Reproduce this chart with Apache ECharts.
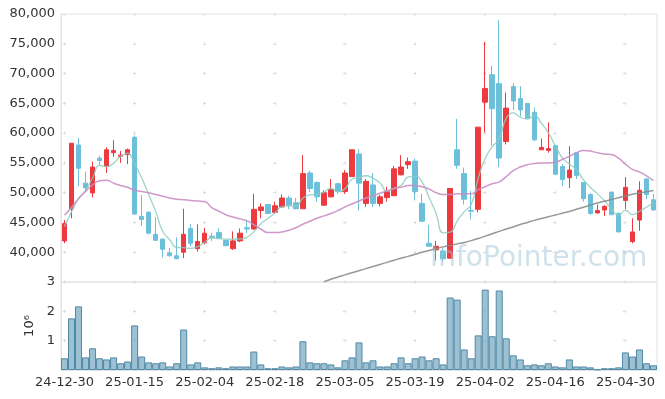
<!DOCTYPE html>
<html>
<head>
<meta charset="utf-8">
<script src="https://cdn.jsdelivr.net/npm/echarts@6/dist/echarts.min.js"></script>
<style>
html, body { margin: 0; padding: 0; background: #fff; }
#main { width: 665px; height: 399px; }
</style>
</head>
<body>
<div id="main"></div>
<script>
// trading days shown on the x axis
var dates = ['24-12-30',
  '25-01-02','25-01-03','25-01-06','25-01-07','25-01-08','25-01-09','25-01-10','25-01-13','25-01-14','25-01-15',
  '25-01-16','25-01-17','25-01-20','25-01-21','25-01-22','25-01-23','25-01-24','25-01-31',
  '25-02-03','25-02-04','25-02-05','25-02-06','25-02-07','25-02-10','25-02-11','25-02-12','25-02-13','25-02-14',
  '25-02-17','25-02-18','25-02-19','25-02-20','25-02-21','25-02-24','25-02-25','25-02-26','25-02-27','25-02-28',
  '25-03-04','25-03-05','25-03-06','25-03-07','25-03-10','25-03-11','25-03-12','25-03-13','25-03-14','25-03-17',
  '25-03-18','25-03-19','25-03-20','25-03-21','25-03-24','25-03-25','25-03-26','25-03-27','25-03-28','25-03-31',
  '25-04-01','25-04-02','25-04-03','25-04-04','25-04-07','25-04-08','25-04-09','25-04-10','25-04-11','25-04-14',
  '25-04-15','25-04-16','25-04-17','25-04-18','25-04-21','25-04-22','25-04-23','25-04-24','25-04-25','25-04-28',
  '25-04-29','25-04-30','25-05-02','25-05-07','25-05-08','25-05-09'];

var opens  = [41900,47300,58000,51600,49950,55800,54400,56700,56100,56400,59300,46000,46700,43000,42200,39900,39400,40000,44000,40600,
              41600,42700,43300,42000,40600,41900,44100,43900,47000,48000,46700,47600,49100,48300,47300,53300,51700,47900,49300,51500,
              50200,52700,56500,48200,51300,48200,49200,49500,53000,54700,55300,48200,41500,40400,40200,39000,57200,53200,47000,47200,
              65200,69800,68300,58600,67800,65800,65000,63500,57200,57100,57900,54400,52500,56700,51700,49700,46600,47100,50100,46500,
              48700,41800,45400,52300,48800];
var closes = [44800,58300,54100,50800,54300,55400,57200,57100,56300,57200,46400,45500,43200,42000,40500,39400,38900,43000,41500,41800,
              43200,42500,42400,41100,41900,43200,43900,47200,47600,46500,47800,49100,47900,47300,53200,50700,49300,50000,50500,50200,
              53300,57200,51600,51900,48200,49300,50200,54000,54300,55200,50200,45200,41000,41000,38900,50700,54600,48900,46900,61000,
              67500,64100,55800,64200,65400,63900,62500,58900,57600,57400,53100,52200,53800,52900,49000,46500,47000,47700,46300,43400,
              50900,43400,50400,49700,47100];
var lows   = [41500,45700,51100,50100,49200,54500,53300,56000,55000,54800,46300,44400,43000,41900,39100,39300,38900,39000,41000,40100,
              41300,41900,42300,41000,40400,41700,43200,43800,45700,46400,46500,47500,47200,47200,47300,50100,48500,47800,49200,49800,
              49800,52700,47000,47600,47600,47700,48500,49400,52900,54000,48700,45100,40900,38600,38500,38900,54000,48000,45500,46700,
              60100,57900,54300,58100,63900,62800,62500,58600,57200,56700,53000,51100,50800,52300,48500,46300,46500,46100,46300,43400,
              47200,41500,43600,48900,47000];
var highs  = [45400,58300,59200,53500,55200,56200,57600,58800,57000,57400,59600,49600,46900,45900,42300,40700,42500,47300,44700,44700,
              44100,43300,44000,42100,43500,44000,45400,49800,48200,48100,48500,49700,49500,49100,56300,53700,51900,50400,52300,51700,
              53800,57200,57300,52300,53300,49600,51000,54500,56300,55900,55700,49800,44600,41900,40700,50700,62400,54200,50300,61000,
              75300,71300,79000,66800,68400,67900,65000,64300,59100,61800,58000,54800,57800,56800,51700,49900,48000,47900,50100,46700,
              52600,45700,51900,52400,49800];

// moving averages as drawn (they carry history from before the window)
var ma5 = [44300,46800,49000,50400,52460,54580,54360,54960,56060,56640,54840,52500,49720,46860,43520,42120,40800,40760,40660,40920,
           41680,42400,42280,42200,42220,42220,42500,43460,44760,45680,46600,47640,47780,47720,49060,49640,49680,50100,50740,50140,
           50660,52240,52560,52840,52440,51640,50240,50720,51200,52600,52780,51780,49180,46520,43260,43360,45240,46820,48000,52420,
           55780,57680,59060,62520,63400,62680,62360,62980,61660,60060,57900,55840,54820,53880,52200,50880,49840,48620,47300,46180,
           47040,46320,46880,47560,48300];
var ma20 = [46200,47500,49000,50200,51300,52000,52100,51600,51200,50900,50400,50200,50000,49700,49400,49100,48900,48800,48700,48600,
            48500,47500,46900,46300,45900,45600,45300,44600,43900,43300,43300,43400,43700,44100,44700,45200,45700,46100,46500,47000,
            47600,48100,48600,49100,49500,49900,50300,50700,50900,51200,51200,51000,50600,50000,49700,49700,49800,49800,49800,50500,
            51000,51500,51800,52700,53700,54300,54700,54900,55000,55000,55100,55600,56100,56700,57100,57000,56700,56500,56400,55800,
            54800,53900,53500,52800,52000];
var ma60 = ['-','-','-','-','-','-','-','-','-','-','-','-','-','-','-','-','-','-','-','-',
            '-','-','-','-','-','-','-','-','-','-','-','-','-','-','-','-','-',35050,35450,35850,
            36200,36550,36900,37250,37600,37950,38300,38650,39000,39300,39650,40000,40300,40600,40900,41150,41400,41650,41950,42300,
            42700,43100,43500,43900,44250,44650,45000,45350,45650,45950,46250,46550,46850,47200,47550,47900,48250,48550,48850,49150,
            49450,49750,49950,50150,50350];

// volume in millions of shares
var volumes = [0.40,1.76,2.17,0.43,0.74,0.40,0.36,0.43,0.23,0.29,1.52,0.46,0.26,0.23,0.26,0.12,0.23,1.38,0.19,0.26,
               0.09,0.06,0.09,0.06,0.12,0.12,0.12,0.63,0.19,0.06,0.06,0.12,0.09,0.12,0.98,0.26,0.23,0.23,0.19,0.09,
               0.33,0.43,0.94,0.26,0.33,0.12,0.12,0.23,0.43,0.23,0.40,0.46,0.33,0.40,0.19,2.47,2.40,0.70,0.40,1.18,
               2.74,1.15,2.71,1.08,0.50,0.36,0.16,0.19,0.16,0.23,0.12,0.09,0.36,0.12,0.12,0.09,0.02,0.06,0.06,0.09,
               0.60,0.46,0.70,0.23,0.16];

var candles = [];
for (var i = 0; i < dates.length; i++) {
    candles.push([opens[i], closes[i], lows[i], highs[i]]);
}

var labelStyle = { color: '#333', fontSize: 13, fontFamily: 'DejaVu Sans' };

var myChart = echarts.init(document.getElementById('main'));
var option = {
    animation: false,
    backgroundColor: '#fff',
    grid: [
        { left: 61, right: 8, top: 14, height: 268, show: true, borderColor: '#e3e3e3', borderWidth: 1 },
        { left: 61, right: 8, top: 282, height: 88, show: true, borderColor: '#e3e3e3', borderWidth: 1 }
    ],
    xAxis: [
        {
            type: 'category', gridIndex: 0, data: dates, boundaryGap: true,
            axisLine: { show: false }, axisTick: { show: false }, axisLabel: { show: false },
            splitLine: { show: true, interval: 9, alignWithLabel: true,
                lineStyle: { color: '#dcdcdc', width: 1, type: [3, 26.78], dashOffset: 1.5 } }
        },
        {
            type: 'category', gridIndex: 1, data: dates, boundaryGap: true,
            axisLine: { show: true, lineStyle: { color: '#e3e3e3' } }, axisTick: { show: false },
            axisLabel: { interval: 9, color: labelStyle.color, fontSize: labelStyle.fontSize, fontFamily: labelStyle.fontFamily, margin: 6 },
            splitLine: { show: true, interval: 9, alignWithLabel: true,
                lineStyle: { color: '#dcdcdc', width: 1, type: [3, 26.33], dashOffset: 1.5 } }
        }
    ],
    yAxis: [
        {
            type: 'value', gridIndex: 0, min: 35000, max: 80000, interval: 5000,
            axisLine: { show: true, lineStyle: { color: '#e3e3e3' } }, axisTick: { show: false },
            axisLabel: { showMinLabel: false, color: labelStyle.color, fontSize: labelStyle.fontSize, fontFamily: labelStyle.fontFamily, margin: 6 },
            splitLine: { show: true, lineStyle: { color: '#dcdcdc', width: 1, type: [3, 67], dashOffset: 68 } }
        },
        {
            type: 'value', gridIndex: 1, min: 0, max: 3, interval: 1,
            name: '10⁶', nameLocation: 'middle', nameRotate: 90, nameGap: 19,
            nameTextStyle: { color: '#333', fontSize: 13, fontFamily: labelStyle.fontFamily },
            axisLine: { show: true, lineStyle: { color: '#e3e3e3' } }, axisTick: { show: false },
            axisLabel: { showMinLabel: false, color: labelStyle.color, fontSize: labelStyle.fontSize, fontFamily: labelStyle.fontFamily, margin: 6 },
            splitLine: { show: true, lineStyle: { color: '#dcdcdc', width: 1, type: [3, 67], dashOffset: 68 } }
        }
    ],
    series: [
        {
            name: 'price', type: 'candlestick', xAxisIndex: 0, yAxisIndex: 0,
            data: candles, barWidth: 5,
            itemStyle: { color: '#ec3a3f', color0: '#6cc0da', borderColor: '#ec3a3f', borderColor0: '#6cc0da', borderWidth: 1 }
        },
        {
            name: 'MA5', type: 'line', xAxisIndex: 0, yAxisIndex: 0, data: ma5,
            smooth: true, showSymbol: false, symbol: 'none',
            lineStyle: { color: '#8ccbbf', width: 1.3, opacity: 0.85 }
        },
        {
            name: 'MA20', type: 'line', xAxisIndex: 0, yAxisIndex: 0, data: ma20,
            smooth: true, showSymbol: false, symbol: 'none',
            lineStyle: { color: '#c98ec4', width: 1.5, opacity: 0.9 }
        },
        {
            name: 'MA60', type: 'line', xAxisIndex: 0, yAxisIndex: 0, data: ma60,
            smooth: true, showSymbol: false, symbol: 'none',
            lineStyle: { color: '#8c8c8c', width: 1.5, opacity: 0.9 }
        },
        {
            name: 'volume', type: 'bar', xAxisIndex: 1, yAxisIndex: 1, data: volumes,
            barWidth: '100%',
            itemStyle: { color: 'rgba(124,172,196,0.75)', borderColor: '#5089a5', borderWidth: 1 }
        }
    ],
    graphic: [
        {
            type: 'text', x: 430, y: 259, z: 100, silent: true,
            style: { text: 'InfoPointer.com', font: '28px "DejaVu Sans"', fill: 'rgba(160,195,214,0.5)', verticalAlign: 'middle' }
        }
    ]
};
myChart.setOption(option);
</script>
</body>
</html>
